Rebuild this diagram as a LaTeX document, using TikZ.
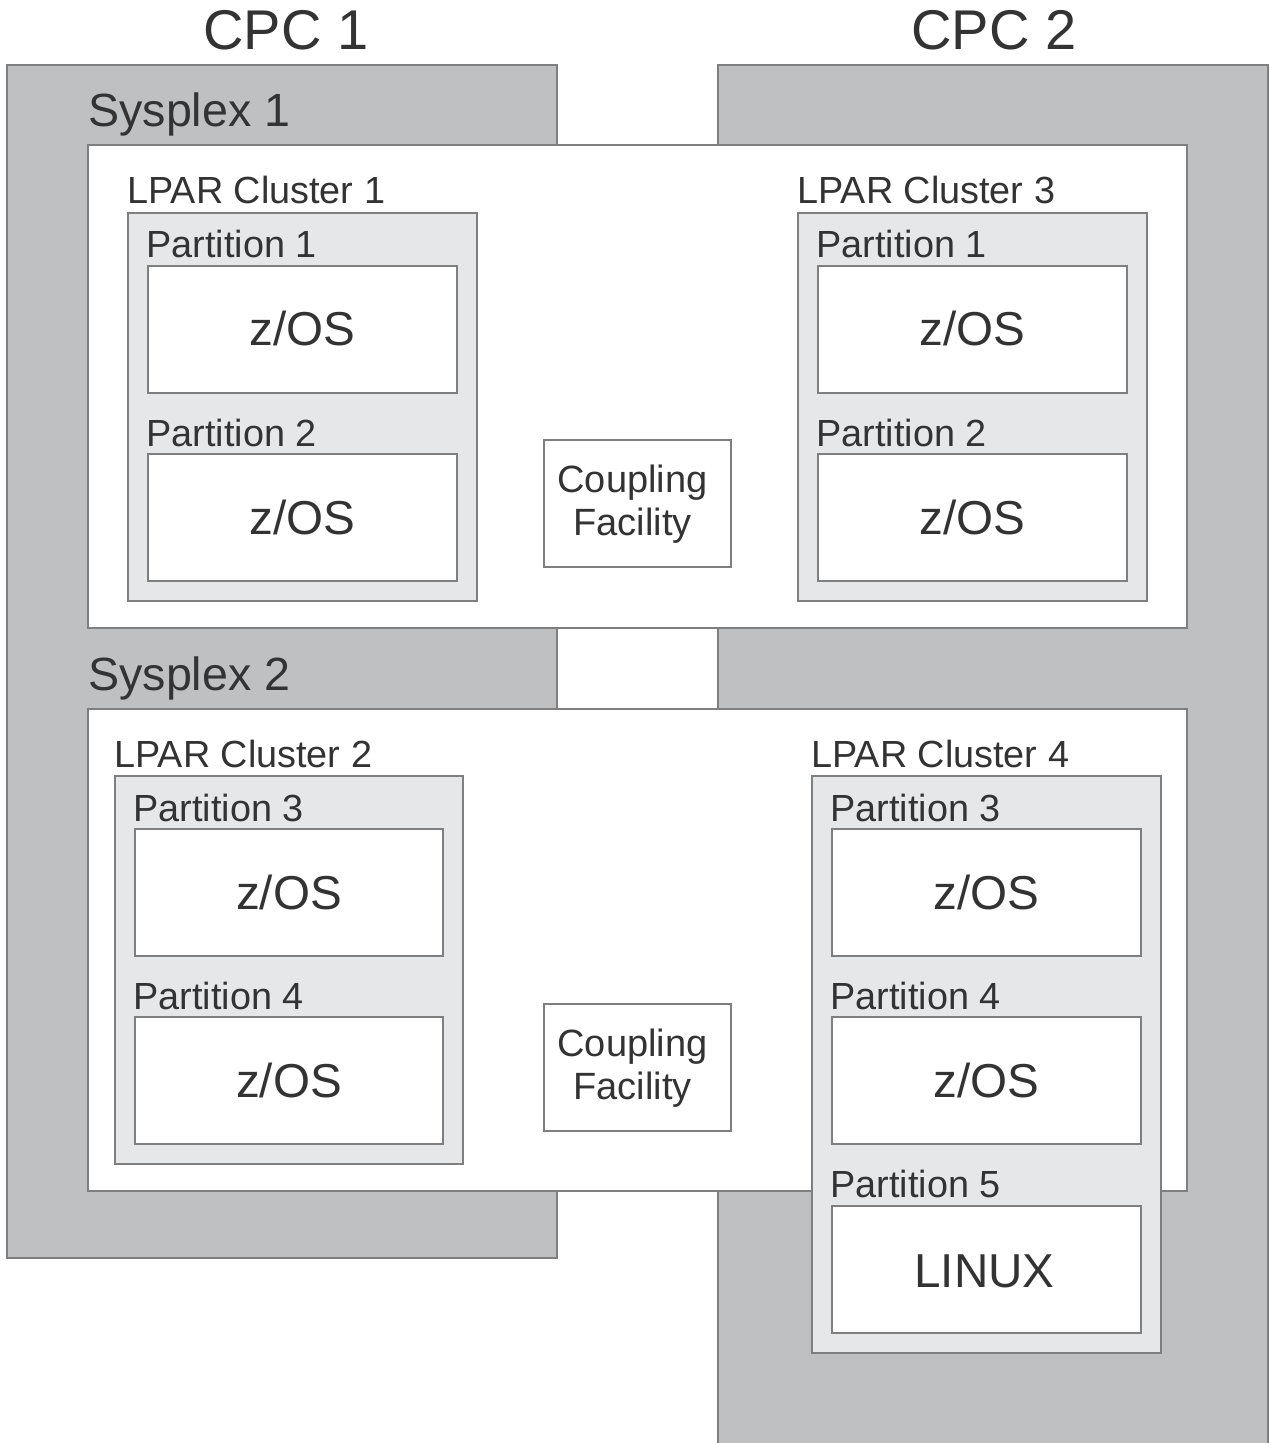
\documentclass[tikz,border=0pt]{standalone}
\usepackage{fontspec}
\setmainfont{Liberation Sans}
\definecolor{cpcgray}{HTML}{BFC0C2}
\definecolor{clgray}{HTML}{E6E7E8}
\definecolor{edgegray}{HTML}{7F7F7F}
\definecolor{ink}{HTML}{333333}
\begin{document}
\begin{tikzpicture}[x=0.5pt,y=-0.5pt,
  frame/.style={draw=edgegray, line width=0.8pt},
  cpc/.style={frame, fill=cpcgray},
  plex/.style={frame, fill=white},
  clus/.style={frame, fill=clgray},
  part/.style={frame, fill=white},
  lbl/.style={inner sep=0, anchor=base west, text=ink, font=\fontsize{18.9}{22}\selectfont},
  biglbl/.style={inner sep=0, anchor=base, text=ink, font=\fontsize{28}{32}\selectfont},
  plexlbl/.style={inner sep=0, anchor=base west, text=ink, font=\fontsize{23.3}{27}\selectfont},
  oslbl/.style={inner sep=0, anchor=base, text=ink, font=\fontsize{23.8}{27}\selectfont},
  cflbl/.style={inner sep=0, anchor=base, text=ink, font=\fontsize{19}{22}\selectfont},
]
\useasboundingbox (0,0) rectangle (1269,1443);
\fill[white] (0,0) rectangle (1269,1443);

% CPCs
\draw[cpc] (7,65) rectangle (557,1258);
\draw[cpc] (718,1450) -- (718,65) -- (1268,65) -- (1268,1450);
\node[biglbl] (cpc1) at (286,50) {CPC 1};
\node[biglbl] (cpc2) at (994,50) {CPC 2};

% Sysplexes
\draw[plex] (88,145) rectangle (1187,628);
\node[plexlbl] (sp1) at (88,127) {Sysplex 1};
\draw[plex] (88,709) rectangle (1187,1191);
\node[plexlbl] (sp2) at (88,690) {Sysplex 2};

% LPAR Cluster 1
\node[lbl] (lc1) at (127,204) {LPAR Cluster 1};
\draw[clus] (128,213) rectangle (477,601);
\node[lbl] (lc1p1) at (146,258) {Partition 1};
\draw[part] (148,266) rectangle (457,393);
\node[oslbl] (lc1o1) at (302.5,346) {z/OS};
\node[lbl] (lc1p2) at (146,446) {Partition 2};
\draw[part] (148,454) rectangle (457,581);
\node[oslbl] (lc1o2) at (302.5,534) {z/OS};

% LPAR Cluster 3
\node[lbl] (lc3) at (797,204) {LPAR Cluster 3};
\draw[clus] (798,213) rectangle (1147,601);
\node[lbl] (lc3p1) at (816,258) {Partition 1};
\draw[part] (818,266) rectangle (1127,393);
\node[oslbl] (lc3o1) at (972.5,346) {z/OS};
\node[lbl] (lc3p2) at (816,446) {Partition 2};
\draw[part] (818,454) rectangle (1127,581);
\node[oslbl] (lc3o2) at (972.5,534) {z/OS};

% Coupling facility 1
\draw[part] (544,440) rectangle (731,567);
\node[cflbl] (cf1a) at (632.5,492) {Coupling};
\node[cflbl] (cf1b) at (632.5,535) {Facility};

% LPAR Cluster 2
\node[lbl] (lc2) at (114,767) {LPAR Cluster 2};
\draw[clus] (115,776) rectangle (463,1164);
\node[lbl] (lc2p3) at (133,821) {Partition 3};
\draw[part] (135,829) rectangle (443,956);
\node[oslbl] (lc2o3) at (289,909) {z/OS};
\node[lbl] (lc2p4) at (133,1009) {Partition 4};
\draw[part] (135,1017) rectangle (443,1144);
\node[oslbl] (lc2o4) at (289,1097) {z/OS};

% Coupling facility 2
\draw[part] (544,1004) rectangle (731,1131);
\node[cflbl] (cf2a) at (632.5,1056) {Coupling};
\node[cflbl] (cf2b) at (632.5,1099) {Facility};

% LPAR Cluster 4
\node[lbl] (lc4) at (811,767) {LPAR Cluster 4};
\draw[clus] (812,776) rectangle (1161,1353);
\node[lbl] (lc4p3) at (830,821) {Partition 3};
\draw[part] (832,829) rectangle (1141,956);
\node[oslbl] (lc4o3) at (986.5,909) {z/OS};
\node[lbl] (lc4p4) at (830,1009) {Partition 4};
\draw[part] (832,1017) rectangle (1141,1144);
\node[oslbl] (lc4o4) at (986.5,1097) {z/OS};
\node[lbl] (lc4p5) at (830,1197) {Partition 5};
\draw[part] (832,1206) rectangle (1141,1333);
\node[oslbl] (lc4o5) at (984.5,1287) {LINUX};
\end{tikzpicture}
\end{document}
